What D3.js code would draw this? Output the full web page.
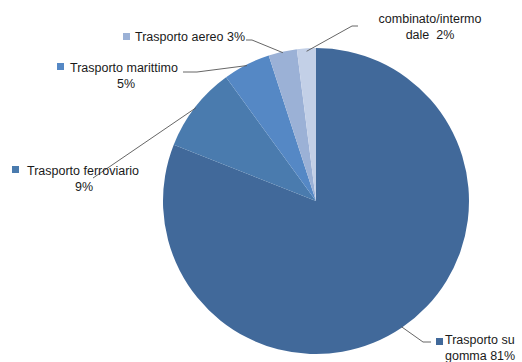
<!DOCTYPE html>
<html><head><meta charset="utf-8">
<script src="https://cdn.jsdelivr.net/npm/d3@7"></script>
<style>body{margin:0;background:#fff}svg{display:block}text{font-family:"Liberation Sans",Arial,sans-serif;fill:#1a1a1a;white-space:pre}</style>
</head><body>
<script>
const categories = ["Trasporto su gomma","Trasporto ferroviario","Trasporto marittimo","Trasporto aereo","Trasporto combinato/intermodale"];
const values = [81, 9, 5, 3, 2];
const colors = ["#41699A","#4A7BAE","#5588C5","#9BB1D6","#C3D0E7"];
const labelLines = [["Trasporto su","gomma 81%"],["Trasporto ferroviario","9%"],["Trasporto marittimo","5%"],["Trasporto aereo 3%"],["combinato/intermo","dale  2%"]];

const W=522,H=362,cx=316,cy=201,R=153;
const svg=d3.select("body").append("svg").attr("width",W).attr("height",H);
const pie=d3.pie().sort(null).value(d=>d)(values);
const arc=d3.arc().innerRadius(0).outerRadius(R);
const g=svg.append("g").attr("transform",`translate(${cx},${cy})`);
g.selectAll("path").data(pie).join("path").attr("d",arc).attr("fill",(d,i)=>colors[i]);

function edge(d,r){const a=(d.startAngle+d.endAngle)/2;return [cx+r*Math.sin(a),cy-r*Math.cos(a)];}
const layout=[
 {pts:[[423,342],[431,342]], sq:[436,338], tx:445, anchor:"start", ys:[344,360]},
 {pts:[[93,178]], sq:[12,166], tx:27, anchor:"start", ys:[175,191], second:84},
 {pts:[[197,72],[183,72]], sq:[57,63], tx:70, anchor:"start", ys:[72,88], second:126},
 {pts:[[252,40],[246,40]], sq:[123,33], tx:135, anchor:"start", ys:[41]},
 {pts:[[352,26],[358,26]], sq:null, tx:430, anchor:"middle", ys:[23,39]}
];
const fs=12.5;
pie.forEach((d,i)=>{
  const L=layout[i];
  const p0=edge(d,i===4?R-3:R-1);
  const pts=[p0,...L.pts];
  svg.append("path").attr("d",d3.line()(pts)).attr("fill","none").attr("stroke","#555").attr("stroke-width",0.9);
  if(L.sq) svg.append("rect").attr("x",L.sq[0]).attr("y",L.sq[1]).attr("width",7).attr("height",7).attr("fill",colors[i]);
  labelLines[i].forEach((t,k)=>{
    let x=L.tx, anchor=L.anchor;
    if(k>0 && L.second!==undefined){x=L.second;anchor="middle";}
    svg.append("text").attr("x",x).attr("y",L.ys[k]).attr("text-anchor",anchor).attr("font-size",fs).attr("xml:space","preserve").text(t);
  });
});
</script>
</body></html>
